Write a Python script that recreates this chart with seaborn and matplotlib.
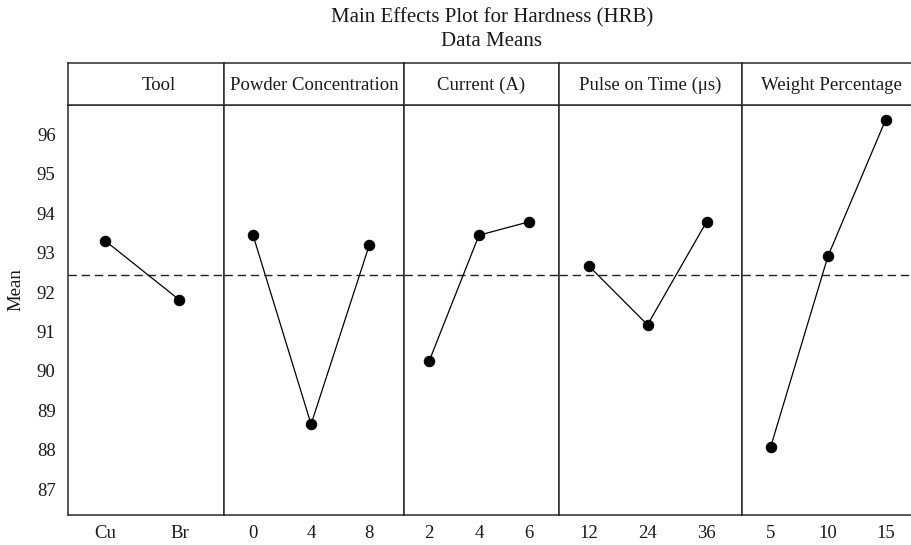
import matplotlib
matplotlib.use("Agg")
import matplotlib.pyplot as plt
import seaborn as sns
import pandas as pd

# ---- data ----
factors = ["Tool", "Powder Concentration", "Current (A)", "Pulse on Time (\u03bcs)", "Weight Percentage"]
tool_levels = ["Cu", "Br"]
tool_means = [93.30, 91.80]
powder_levels = ["0", "4", "8"]
powder_means = [93.44, 88.65, 93.18]
current_levels = ["2", "4", "6"]
current_means = [90.24, 93.44, 93.78]
pulse_levels = ["12", "24", "36"]
pulse_means = [92.67, 91.17, 93.78]
weight_levels = ["5", "10", "15"]
weight_means = [88.08, 92.92, 96.36]
grand_mean = 92.43
y_ticks = [87, 88, 89, 90, 91, 92, 93, 94, 95, 96]

levels = [tool_levels, powder_levels, current_levels, pulse_levels, weight_levels]
means = [tool_means, powder_means, current_means, pulse_means, weight_means]

# ---- style ----
sns.set_theme(style="white")
plt.rcParams["font.family"] = ["Liberation Serif", "DejaVu Serif"]

W, H = 911, 545
fig = plt.figure(figsize=(W / 100, H / 100), dpi=100)

edge_color = "#2a2a2a"
edges_px = [68, 224, 404, 559, 742, 920]
ax_bottom_px, ax_top_px, strip_top_px = 515, 105, 63
ylim = (86.35, 96.74)
fs = 13.5
title_fs = 15

last = len(factors) - 1
for i, (lev, vals, name) in enumerate(zip(levels, means, factors)):
    l, r = edges_px[i], edges_px[i + 1]
    ax = fig.add_axes([l / W, (H - ax_bottom_px) / H, (r - l) / W,
                       (ax_bottom_px - ax_top_px) / H])
    df = pd.DataFrame({"pos": list(range(len(lev))), "mean": vals})
    ax.axhline(grand_mean, color="#222222", lw=1.0, ls=(0, (6, 3.5)), zorder=1)
    sns.lineplot(data=df, x="pos", y="mean", ax=ax, color="black", lw=0.9,
                 marker="o", markersize=7.5, markeredgecolor="black",
                 markerfacecolor="black", zorder=3)
    n = len(lev)
    ax.set_xlim(-0.50, n - 1 + 0.60)
    ax.set_ylim(*ylim)
    ax.set_xticks(range(n))
    ax.set_xticklabels(lev)
    ax.set_xlabel("")
    ax.set_ylabel("")
    if i == 0:
        ax.set_yticks(y_ticks)
        ax.set_yticklabels([str(t) for t in y_ticks])
    else:
        ax.set_yticks([])
    ax.tick_params(axis="both", length=0, labelsize=fs, colors="#1a1a1a")
    ax.tick_params(axis="x", pad=7)
    ax.tick_params(axis="y", pad=9)
    for sp in ax.spines.values():
        sp.set_color(edge_color)
        sp.set_linewidth(1.1)
    if i == last:
        ax.spines["right"].set_visible(False)

    # strip header
    sax = fig.add_axes([l / W, (H - ax_top_px) / H, (r - l) / W,
                        (ax_top_px - strip_top_px) / H])
    sax.set_xticks([])
    sax.set_yticks([])
    for sp in sax.spines.values():
        sp.set_color(edge_color)
        sp.set_linewidth(1.1)
    if i == last:
        sax.spines["right"].set_visible(False)
    xpos = 0.58 if i == 0 else 0.5
    sax.text(xpos, 0.47, name, ha="center", va="center", fontsize=fs,
             color="#1a1a1a", transform=sax.transAxes)

fig.text(492 / W, 1 - 18 / H, "Main Effects Plot for Hardness (HRB)",
         ha="center", va="center", fontsize=title_fs, color="#1a1a1a")
fig.text(492 / W, 1 - 42 / H, "Data Means", ha="center", va="center",
         fontsize=title_fs, color="#1a1a1a")
fig.text(16 / W, 1 - 290 / H, "Mean", rotation=90, ha="center", va="center",
         fontsize=fs, color="#1a1a1a")

fig.savefig("out.png", dpi=100)
